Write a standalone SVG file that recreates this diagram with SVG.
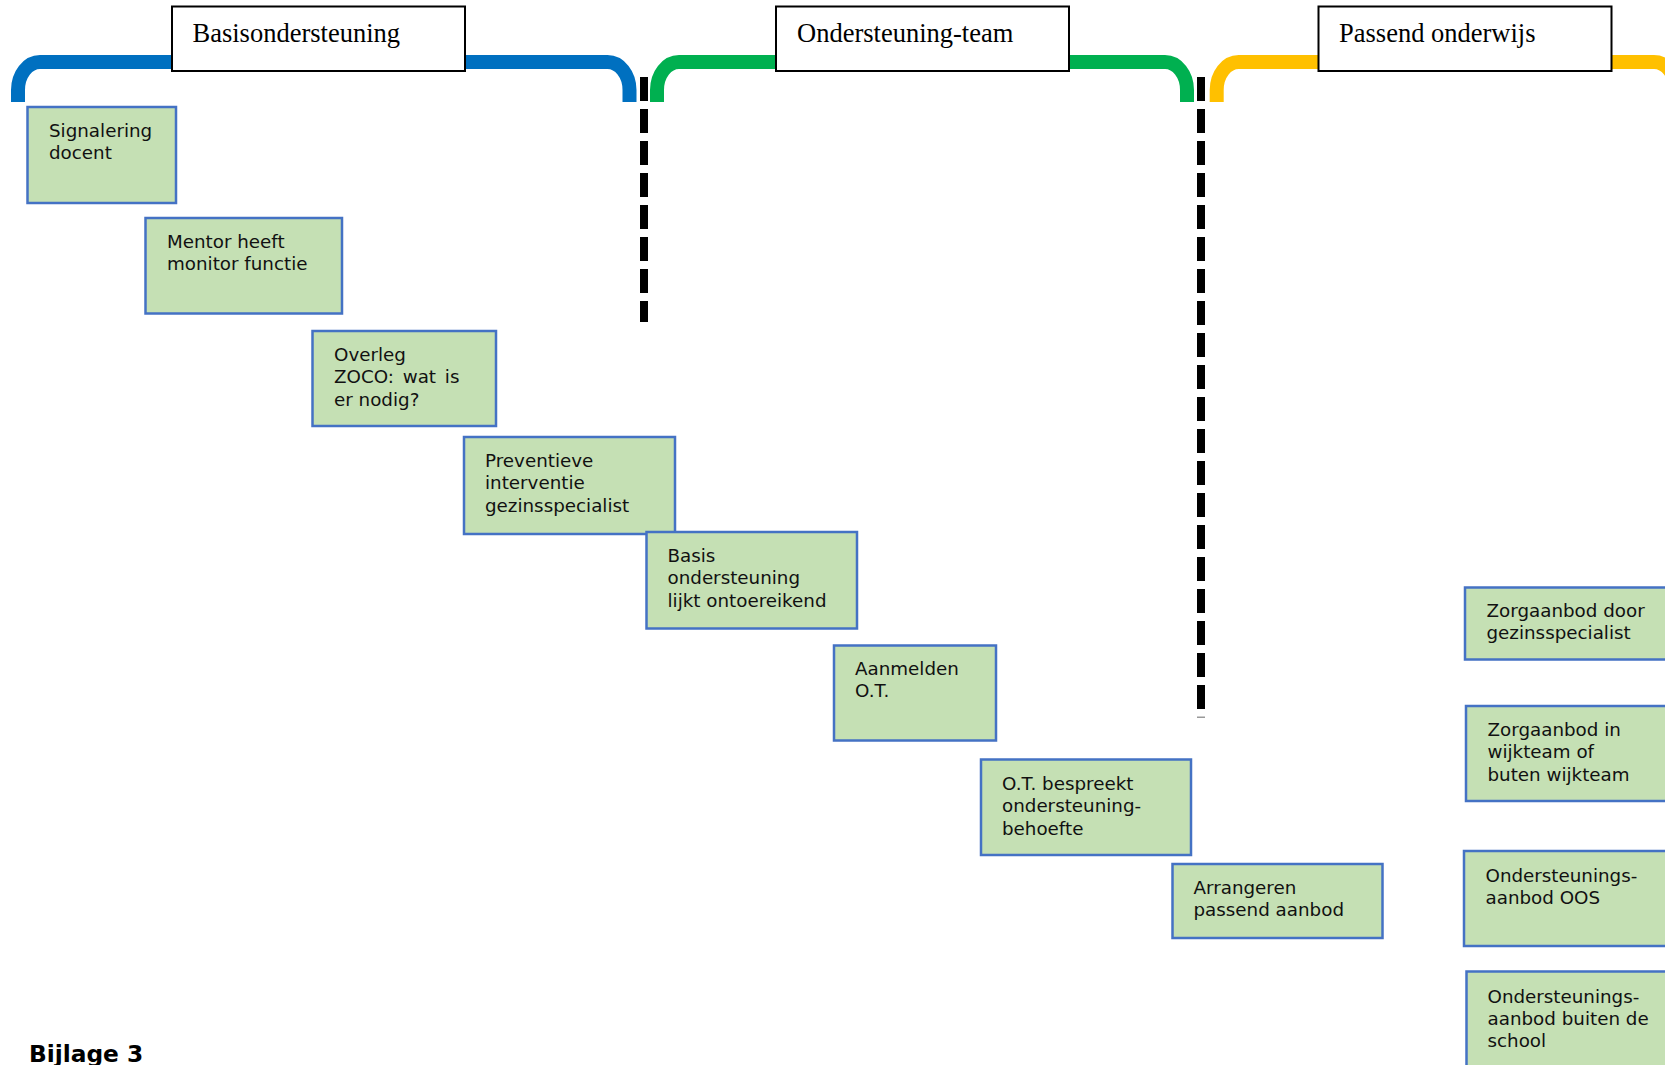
<svg xmlns="http://www.w3.org/2000/svg" width="1665" height="1065" viewBox="0 0 1665 1065">
<style>
.br{fill:none;stroke-width:14;stroke-linecap:butt}
.hdr rect{fill:#fff;stroke:#000;stroke-width:2}
.hdr text{font-family:"Liberation Serif","Times New Roman",serif;font-size:26.5px;fill:#000}
.nd rect{fill:#C5E0B4;stroke:#4472C4;stroke-width:2.5}
.nd text{font-family:"DejaVu Sans",Verdana,sans-serif;font-size:18.3px;fill:#111}
.dash{stroke:#000;stroke-width:8;stroke-dasharray:24 8;fill:none}
.title{font-family:"DejaVu Sans",Verdana,sans-serif;font-size:23.3px;font-weight:bold;fill:#000}
</style>
<rect width="1665" height="1065" fill="#fff"/>
<g id="brackets">
<path class="br" stroke="#0070C0" d="M18 102 L18 90 A22 28 0 0 1 40 62 L607.5 62 A22 28 0 0 1 629.5 90 L629.5 102"/>
<path class="br" stroke="#00B050" d="M657 102 L657 90 A22 28 0 0 1 679 62 L1165 62 A22 28 0 0 1 1187 90 L1187 102"/>
<path class="br" stroke="#FFC000" d="M1216.7 102 L1216.7 90 A22 28 0 0 1 1238.7 62 L1654 62 A22 28 0 0 1 1676 90 L1676 102"/>
</g>
<g id="connectors">
<line class="dash" x1="644" y1="77" x2="644" y2="322"/>
<line class="dash" x1="1201" y1="77" x2="1201" y2="709"/>
<rect x="1197" y="716.5" width="8" height="1.5" fill="#999"/>
</g>
<g id="hdr-basis" class="hdr"><rect x="172" y="6.5" width="293" height="64.5"/><text x="192.5" y="42">Basisondersteuning</text></g>
<g id="hdr-ot" class="hdr"><rect x="776" y="6.5" width="293" height="64.5"/><text x="797" y="42">Ondersteuning-team</text></g>
<g id="hdr-po" class="hdr"><rect x="1318.5" y="6.5" width="293" height="64.5"/><text x="1339" y="42">Passend onderwijs</text></g>
<g id="n1" class="nd"><rect x="27.5" y="107" width="148.5" height="96"/><text x="49" y="137">Signalering<tspan x="49" dy="22.3">docent</tspan></text></g>
<g id="n2" class="nd"><rect x="145.5" y="218" width="196.5" height="95.5"/><text x="167" y="248">Mentor heeft<tspan x="167" dy="22.3">monitor functie</tspan></text></g>
<g id="n3" class="nd"><rect x="312.5" y="331" width="183.5" height="95"/><text x="334" y="361">Overleg<tspan x="334" dy="22.3" word-spacing="3">ZOCO: wat is</tspan><tspan x="334" dy="22.3">er nodig?</tspan></text></g>
<g id="n4" class="nd"><rect x="464" y="437" width="211" height="97"/><text x="485" y="467">Preventieve<tspan x="485" dy="22.3">interventie</tspan><tspan x="485" dy="22.3">gezinsspecialist</tspan></text></g>
<g id="n5" class="nd"><rect x="646.5" y="532" width="210.5" height="96.5"/><text x="667.5" y="562">Basis<tspan x="667.5" dy="22.3">ondersteuning</tspan><tspan x="667.5" dy="22.3">lijkt ontoereikend</tspan></text></g>
<g id="n6" class="nd"><rect x="834" y="645.5" width="162" height="95"/><text x="855" y="675">Aanmelden<tspan x="855" dy="22.3">O.T.</tspan></text></g>
<g id="n7" class="nd"><rect x="981" y="759.5" width="210" height="95.5"/><text x="1002" y="790">O.T. bespreekt<tspan x="1002" dy="22.3">ondersteuning-</tspan><tspan x="1002" dy="22.3">behoefte</tspan></text></g>
<g id="n8" class="nd"><rect x="1172.5" y="864" width="210" height="74"/><text x="1193.5" y="894">Arrangeren<tspan x="1193.5" dy="22.3">passend aanbod</tspan></text></g>
<g id="n9" class="nd"><rect x="1465" y="587.5" width="215" height="72"/><text x="1486.5" y="617">Zorgaanbod door<tspan x="1486.5" dy="22.3">gezinsspecialist</tspan></text></g>
<g id="n10" class="nd"><rect x="1466" y="706" width="214" height="95"/><text x="1487.5" y="736">Zorgaanbod in<tspan x="1487.5" dy="22.3">wijkteam of</tspan><tspan x="1487.5" dy="22.3">buten wijkteam</tspan></text></g>
<g id="n11" class="nd"><rect x="1464" y="851" width="216" height="95"/><text x="1485.5" y="881.5">Ondersteunings-<tspan x="1485.5" dy="22.3">aanbod OOS</tspan></text></g>
<g id="n12" class="nd"><rect x="1466.5" y="971.5" width="214" height="105"/><text x="1487.5" y="1002.5">Ondersteunings-<tspan x="1487.5" dy="22.3">aanbod buiten de</tspan><tspan x="1487.5" dy="22.3">school</tspan></text></g>
<text class="title" x="29" y="1062">Bijlage 3</text>
</svg>
